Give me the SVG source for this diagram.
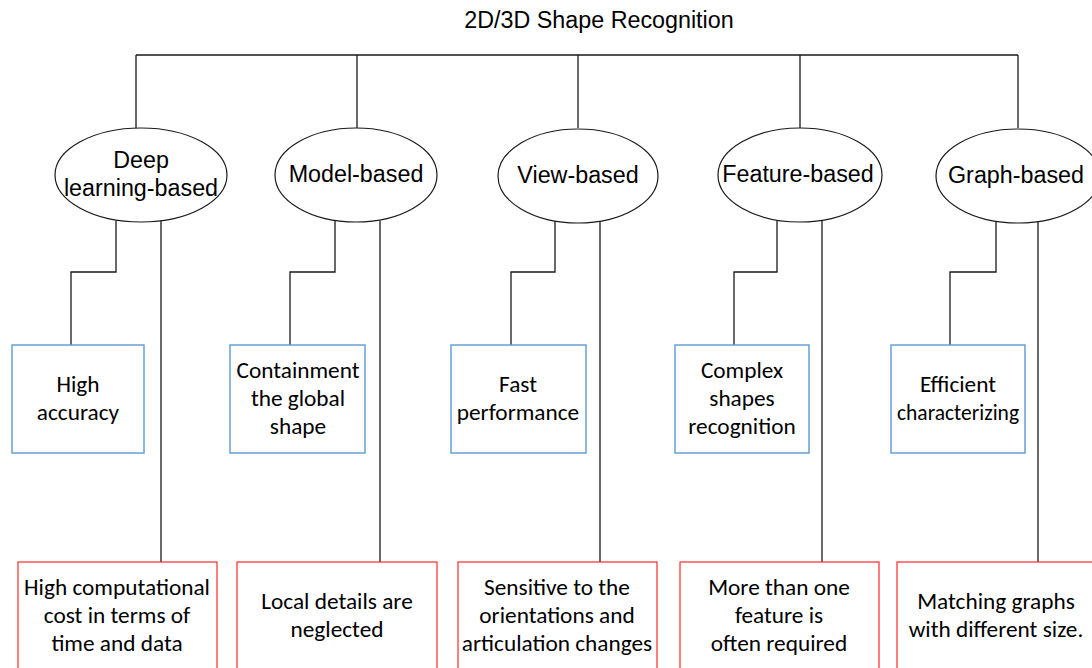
<svg xmlns="http://www.w3.org/2000/svg" width="1092" height="668" viewBox="0 0 1092 668">
  <style>
    .bg { fill: #ffffff; }
    .wire { fill: none; stroke: #1a1a1a; stroke-width: 1.3; }
    .oval { fill: #ffffff; stroke: #1a1a1a; stroke-width: 1.2; }
    .pro { fill: #ffffff; stroke: #5b9bd5; stroke-width: 1.4; }
    .con { fill: #ffffff; stroke: #ff2b2b; stroke-width: 1.2; }
    .head { font-family: "Liberation Sans", Arial, sans-serif; font-size: 23.3px; fill: #000000; text-anchor: middle; }
    .note { font-family: Carlito, Calibri, Lato, sans-serif; font-size: 23.3px; fill: #000000; text-anchor: middle; }
    .small { font-size: 21.5px; }
  </style>
  <rect class="bg" x="0" y="0" width="1092" height="668"/>

  <text class="head" x="599" y="28">2D/3D Shape Recognition</text>

  <!-- connectors -->
  <g id="connectors">
    <!-- trunk -->
    <path class="wire" d="M136,55 H1018 M136,55 V128 M357,55 V128 M578,55 V128 M800,55 V128 M1018,55 V128"/>
    <!-- stepped links to the advantage boxes -->
    <path class="wire" d="M116,221 V272 H71 V345"/>
    <path class="wire" d="M335,221 V272 H290 V345"/>
    <path class="wire" d="M555,221 V272 H511 V345"/>
    <path class="wire" d="M777,221 V272 H734 V345"/>
    <path class="wire" d="M996,221 V272 H950 V345"/>
    <!-- straight links to the drawback boxes -->
    <path class="wire" d="M161,221 V562"/>
    <path class="wire" d="M380,221 V562"/>
    <path class="wire" d="M600,221 V562"/>
    <path class="wire" d="M822,221 V562"/>
    <path class="wire" d="M1038,221 V562"/>
  </g>

  <!-- method ellipses -->
  <g id="deep">
    <ellipse class="oval" cx="141" cy="175" rx="86" ry="47"/>
    <text class="head" x="141" y="168">Deep</text>
    <text class="head" x="141" y="196">learning-based</text>
  </g>
  <g id="model">
    <ellipse class="oval" cx="356" cy="175" rx="81" ry="47"/>
    <text class="head" x="356" y="182">Model-based</text>
  </g>
  <g id="view">
    <ellipse class="oval" cx="578" cy="176" rx="80" ry="47"/>
    <text class="head" x="578" y="183">View-based</text>
  </g>
  <g id="feature">
    <ellipse class="oval" cx="800" cy="175" rx="82" ry="47"/>
    <text class="head" x="798" y="182">Feature-based</text>
  </g>
  <g id="graph">
    <ellipse class="oval" cx="1018" cy="176" rx="82" ry="47"/>
    <text class="head" x="1016" y="183">Graph-based</text>
  </g>

  <!-- advantage boxes -->
  <g id="pro-deep">
    <rect class="pro" x="12" y="345" width="132" height="108"/>
    <text class="note" x="78" y="392">High</text>
    <text class="note" x="78" y="420">accuracy</text>
  </g>
  <g id="pro-model">
    <rect class="pro" x="230" y="345" width="135" height="108"/>
    <text class="note" x="298" y="378">Containment</text>
    <text class="note" x="298" y="406">the global</text>
    <text class="note" x="298" y="434">shape</text>
  </g>
  <g id="pro-view">
    <rect class="pro" x="451" y="345" width="135" height="108"/>
    <text class="note" x="518" y="392">Fast</text>
    <text class="note" x="518" y="420">performance</text>
  </g>
  <g id="pro-feature">
    <rect class="pro" x="675" y="345" width="134" height="108"/>
    <text class="note" x="742" y="378">Complex</text>
    <text class="note" x="742" y="406">shapes</text>
    <text class="note" x="742" y="434">recognition</text>
  </g>
  <g id="pro-graph">
    <rect class="pro" x="891" y="345" width="134" height="108"/>
    <text class="note" x="958" y="392">Efficient</text>
    <text class="note small" x="958" y="420">characterizing</text>
  </g>

  <!-- drawback boxes -->
  <g id="con-deep">
    <rect class="con" x="18" y="562" width="199" height="120"/>
    <text class="note" x="117" y="595">High computational</text>
    <text class="note" x="117" y="623">cost in terms of</text>
    <text class="note" x="117" y="651">time and data</text>
  </g>
  <g id="con-model">
    <rect class="con" x="237" y="562" width="200" height="120"/>
    <text class="note" x="337" y="609">Local details are</text>
    <text class="note" x="337" y="637">neglected</text>
  </g>
  <g id="con-view">
    <rect class="con" x="458" y="562" width="199" height="120"/>
    <text class="note" x="557" y="595">Sensitive to the</text>
    <text class="note" x="557" y="623">orientations and</text>
    <text class="note" x="557" y="651">articulation changes</text>
  </g>
  <g id="con-feature">
    <rect class="con" x="680" y="562" width="199" height="120"/>
    <text class="note" x="779" y="595">More than one</text>
    <text class="note" x="779" y="623">feature is</text>
    <text class="note" x="779" y="651">often required</text>
  </g>
  <g id="con-graph">
    <rect class="con" x="897" y="562" width="210" height="120"/>
    <text class="note" x="996" y="609">Matching graphs</text>
    <text class="note" x="996" y="637">with different size.</text>
  </g>
</svg>
